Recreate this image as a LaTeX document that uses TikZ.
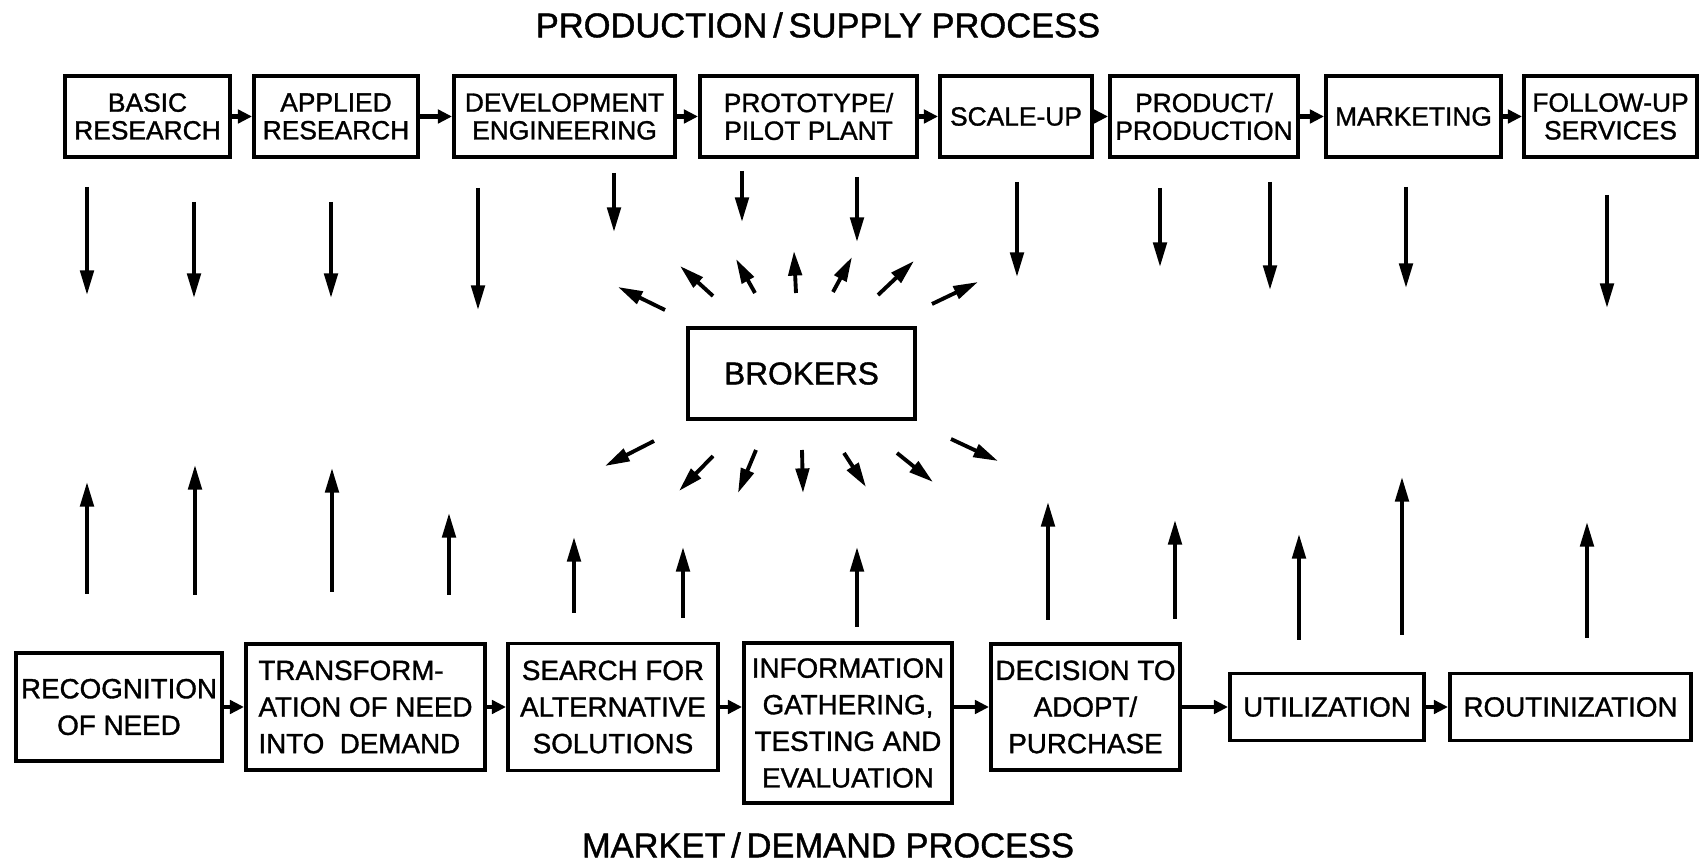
\documentclass[tikz,border=0pt]{standalone}
\usepackage{fontspec}
\setmainfont{Liberation Sans}[FakeBold=1.2]
\usetikzlibrary{positioning, arrows.meta}

\begin{document}
\begin{tikzpicture}[
    x=0.01cm, y=-0.01cm,
    box/.style={rectangle, draw=black, line width=1.1pt, inner sep=0pt,
        align=center},
    upper/.style={box, minimum height=0.81cm, font=\fontsize{7.5}{7.9}\selectfont},
    lower/.style={box, font=\fontsize{7.9}{10.4}\selectfont},
    heading/.style={font=\fontsize{9.8}{12}\selectfont},
    link/.style={-{Triangle[length=4pt, width=3.8pt]}, line width=1.3pt},
    arrow/.style={-{Triangle[length=7pt, width=3.8pt]}, line width=1.1pt}
]
\useasboundingbox (0,0) rectangle (1702,864);

% supply chain along the top
\node[heading] (supply) at (818,25) {PRODUCTION\,/\,SUPPLY PROCESS};
\node[upper, minimum width=1.65cm] (basic) at (147.5,116.5) {BASIC\\RESEARCH};
\node[upper, minimum width=1.64cm] (applied) at (336,116.5) {APPLIED\\RESEARCH};
\node[upper, minimum width=2.21cm] (develop) at (564.5,116.5) {DEVELOPMENT\\ENGINEERING};
\node[upper, minimum width=2.17cm] (pilot) at (808.5,116.5) {PROTOTYPE/\\PILOT PLANT};
\node[upper, minimum width=1.52cm] (scaleup) at (1016,116.5) {SCALE-UP};
\node[upper, minimum width=1.88cm] (product) at (1204,116.5) {PRODUCT/\\PRODUCTION};
\node[upper, minimum width=1.75cm] (market) at (1413.5,116.5) {MARKETING};
\node[upper, minimum width=1.73cm] (followup) at (1610.5,116.5) {FOLLOW-UP\\SERVICES};

\draw[link] (basic) -- (applied);
\draw[link] (applied) -- (develop);
\draw[link] (develop) -- (pilot);
\draw[link] (pilot) -- (scaleup);
\draw[link] (scaleup) -- (product);
\draw[link] (product) -- (market);
\draw[link] (market) -- (followup);

% brokers in the middle
\node[box, minimum width=2.27cm, minimum height=0.91cm,
    font=\fontsize{9}{11}\selectfont] (brokers) at (801.5,373.5) {BROKERS};

% demand chain along the bottom
\node[lower, minimum width=2.06cm, minimum height=1.08cm] (need) at (119,707) {RECOGNITION\\OF NEED};
\node[lower, minimum width=2.39cm, minimum height=1.26cm, align=left] (demand) at (365.5,707) {TRANSFORM-\\ATION OF NEED\\INTO\ \ DEMAND};
\node[lower, minimum width=2.10cm, minimum height=1.27cm] (search) at (613,707) {SEARCH FOR\\ALTERNATIVE\\SOLUTIONS};
\node[lower, minimum width=2.08cm, minimum height=1.60cm] (info) at (848,723) {INFORMATION\\GATHERING,\\TESTING AND\\EVALUATION};
\node[lower, minimum width=1.89cm, minimum height=1.26cm] (adopt) at (1085.5,707) {DECISION TO\\ADOPT/\\PURCHASE};
\node[lower, minimum width=1.94cm, minimum height=0.67cm] (use) at (1327,707) {UTILIZATION};
\node[lower, minimum width=2.41cm, minimum height=0.67cm] (routine) at (1570.5,707) {ROUTINIZATION};
\node[heading] (demandproc) at (828,845) {MARKET\,/\,DEMAND PROCESS};

\draw[link] (need) -- (demand);
\draw[link] (demand) -- (search);
\draw[link] (search.east) -- (info.west |- search.east);
\draw[link] (info.east |- adopt.west) -- (adopt.west);
\draw[link] (adopt) -- (use);
\draw[link] (use) -- (routine);

% arrows coming down from the supply side
\foreach \x/\a/\b [count=\i] in {87/187/295, 194/202/298, 331/202/298,
    478/188/310, 614/173/232, 742/171/222, 857/177/242, 1017/182/277,
    1160/188/267, 1270/182/290, 1406/187/288, 1607/195/308} {
  \coordinate (dn\i) at (\x,\a);
  \coordinate (dnh\i) at (\x,\b);
  \draw[arrow] (dn\i) -- (dnh\i);
}

% arrows going up from the demand side
\foreach \x/\a/\b [count=\i] in {87/594/482, 195/595/465, 332/592/468,
    449/595/513, 574/613/537, 683/618/547, 857/627/547, 1048/620/502,
    1175/619/520, 1299/640/534, 1402/635/477, 1587/638/522} {
  \coordinate (up\i) at (\x,\a);
  \coordinate (uph\i) at (\x,\b);
  \draw[arrow] (up\i) -- (uph\i);
}

% brokers radiating both ways
\foreach \p/\q/\r/\s [count=\i] in {665/310/618/287, 713/296/680/266,
    755/293/736/259, 796/293/794/251, 833/292/852/257, 878/295/914/261,
    932/304/978/282, 654/441/605/466, 713/456/679/491, 756/450/738/493,
    802/450/803/493, 844/453/866/487, 897/453/933/482, 951/439/998/461} {
  \coordinate (br\i) at (\p,\q);
  \coordinate (brh\i) at (\r,\s);
  \draw[arrow] (br\i) -- (brh\i);
}
\end{tikzpicture}
\end{document}
